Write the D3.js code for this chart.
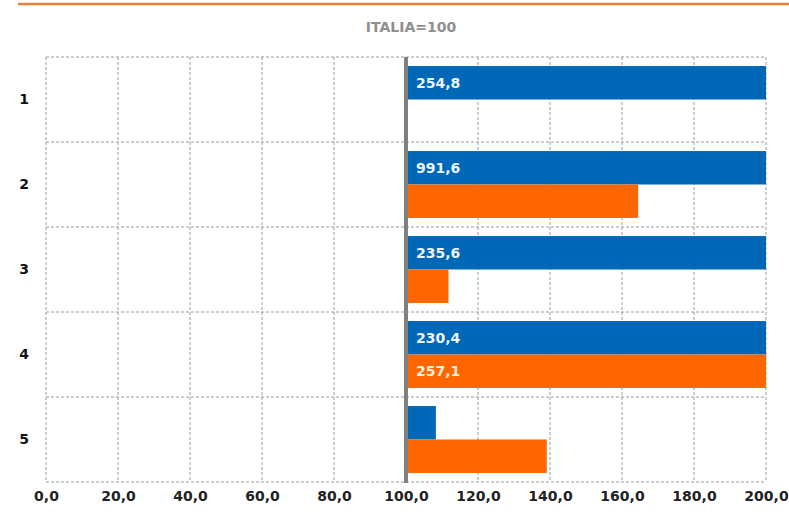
<!DOCTYPE html>
<html>
<head>
<meta charset="utf-8">
<script src="https://cdn.jsdelivr.net/npm/d3@7"></script>
<style>
html,body{margin:0;padding:0;background:#fff;}
svg{display:block;font-family:"DejaVu Sans",sans-serif;}
</style>
</head>
<body>
<svg id="chart" width="789" height="517"></svg>
<script>
const categories = ["1","2","3","4","5"];
const seriesBlue = [254.8, 991.6, 235.6, 230.4, 108.3];
const seriesOrange = [null, 164.5, 111.8, 257.1, 139.1];
const xTicks = [0,20,40,60,80,100,120,140,160,180,200];
const title = "ITALIA=100";
const baselineValue = 100;

const svg = d3.select("#chart");
const W = 789, H = 517;
const m = {left:46, right:23, top:57, bottom:35};

// top orange rule
svg.append("line").attr("x1",18).attr("x2",W).attr("y1",4).attr("y2",4)
  .attr("stroke","#e8803a").attr("stroke-width",2.5);

svg.append("text").attr("x",411).attr("y",32).attr("text-anchor","middle")
  .attr("font-size",14).attr("font-weight","bold").attr("fill","#8f8f8f").text(title);

const x = d3.scaleLinear().domain([0,200]).range([m.left, W - m.right]);
const y = d3.scaleBand().domain(categories).range([m.top, H - m.bottom]).paddingInner(0).paddingOuter(0);
const sub = d3.scaleBand().domain(["b","o"]).range([0, y.bandwidth()]).paddingOuter(0.27).paddingInner(0);

const grid = svg.append("g");
grid.selectAll("line.v").data(xTicks).join("line")
  .attr("x1",d=>x(d)).attr("x2",d=>x(d)).attr("y1",m.top).attr("y2",H-m.bottom)
  .attr("stroke","#9a9a9a").attr("stroke-width",1).attr("stroke-dasharray","3,2");
const hLines = categories.map(c=>y(c)).concat([H-m.bottom]);
grid.selectAll("line.h").data(hLines).join("line")
  .attr("x1",x(0)).attr("x2",x(200)).attr("y1",d=>d).attr("y2",d=>d)
  .attr("stroke","#9a9a9a").attr("stroke-width",1).attr("stroke-dasharray","3,2");

const clipMax = 200;
function drawSeries(vals, key, color){
  const data = vals.map((v,i)=>({v, c:categories[i]})).filter(d=>d.v!=null);
  svg.append("g").selectAll("rect").data(data).join("rect")
    .attr("x", x(baselineValue))
    .attr("y", d=>y(d.c)+sub(key))
    .attr("width", d=>x(Math.min(d.v,clipMax)) - x(baselineValue))
    .attr("height", sub.bandwidth())
    .attr("fill", color);
  svg.append("g").selectAll("text").data(data.filter(d=>d.v>clipMax)).join("text")
    .attr("x", x(baselineValue)+10)
    .attr("y", d=>y(d.c)+sub(key)+sub.bandwidth()/2)
    .attr("dy","0.36em")
    .attr("font-size",14).attr("font-weight","bold")
    .attr("fill", key==="b" ? "#eef4ff" : "#fff1dd")
    .text(d=>d3.format(".1f")(d.v).replace(".",","));
}
drawSeries(seriesBlue,"b","#0068b7");
drawSeries(seriesOrange,"o","#ff6600");

svg.append("line").attr("x1",x(baselineValue)).attr("x2",x(baselineValue))
  .attr("y1",m.top).attr("y2",H-m.bottom+1)
  .attr("stroke","#808080").attr("stroke-width",4);

const xAxis = d3.axisBottom(x).tickValues(xTicks).tickSize(0).tickPadding(9)
  .tickFormat(d=>d3.format(".1f")(d).replace(".",","));
const gx = svg.append("g").attr("transform",`translate(0,${H-m.bottom})`).call(xAxis);
gx.select(".domain").remove();
gx.selectAll("text").attr("font-size",14).attr("font-weight","bold").attr("fill","#222")
  .attr("font-family","DejaVu Sans, sans-serif");

const yAxis = d3.axisLeft(y).tickSize(0).tickPadding(17);
const gy = svg.append("g").attr("transform",`translate(${m.left},0)`).call(yAxis);
gy.select(".domain").remove();
gy.selectAll("text").attr("font-size",14).attr("font-weight","bold").attr("fill","#111")
  .attr("font-family","DejaVu Sans, sans-serif");
</script>
</body>
</html>
